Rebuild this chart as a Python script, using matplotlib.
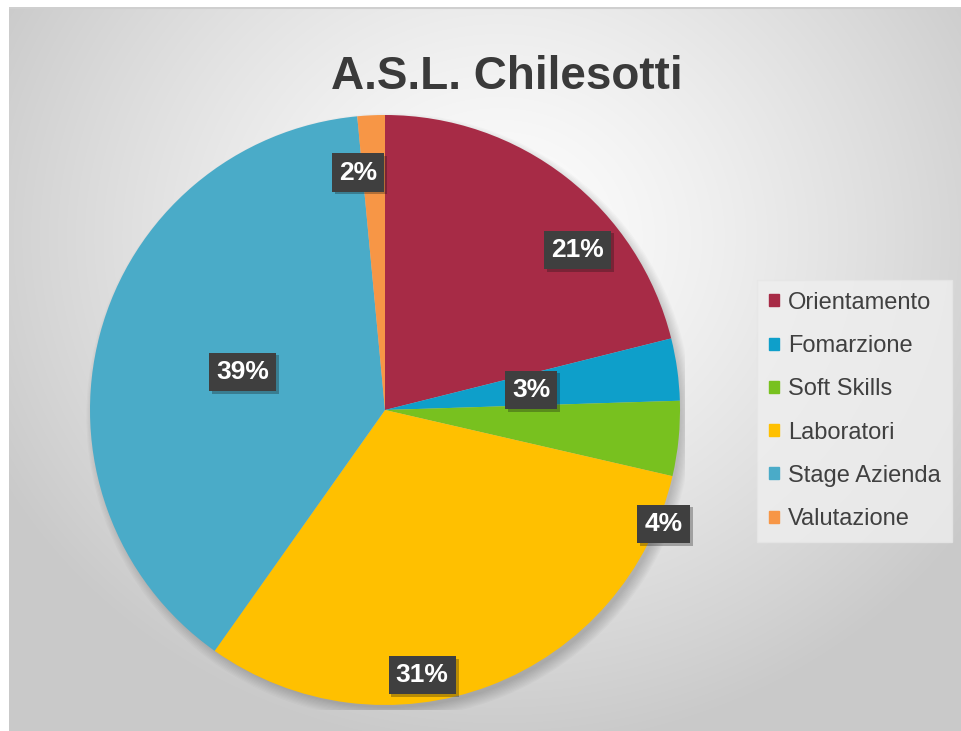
import numpy as np
import matplotlib; matplotlib.use("Agg")
import matplotlib.pyplot as plt
import matplotlib.patches as mpatches
import matplotlib.patheffects as pe

plt.rcParams['font.family'] = ['Liberation Sans', 'DejaVu Sans']

# data (shares in %)
categories = ["Orientamento", "Fomarzione", "Soft Skills", "Laboratori", "Stage Azienda", "Valutazione"]
shares = [21.1, 3.4, 4.1, 31.2, 38.7, 1.5]
colors = ["#A72B46", "#0E9FCA", "#78C11F", "#FFC000", "#4AABC8", "#F79646"]
# where each data label sits (polar, angle in degrees / fraction of radius)
lab_ang = [39.7, 7.9, -22.2, -82.0, 165.0, 96.5]
lab_r = [0.85, 0.50, 1.02, 0.907, 0.50, 0.81]

W, H = 961, 731
fig = plt.figure(figsize=(W/100, H/100), dpi=100)
fig.patch.set_facecolor("white")

# background with radial gradient (chart area starts a few px in from top/left)
bg = fig.add_axes([9/W, 0, 1-9/W, 1-7/H]); bg.set_axis_off()
yy, xx = np.mgrid[0:724, 0:952]
d = np.sqrt(((xx-490)/620.0)**2 + ((yy-230)/560.0)**2)
g = np.clip(0.995 - 0.23*d**1.3, 0.79, 1.0)
bg.imshow(np.dstack([g, g, g]), aspect='auto', extent=(0, 1, 0, 1), origin='upper')
bg.set_xlim(0, 1); bg.set_ylim(0, 1)
bg.plot([0, 1], [0.999, 0.999], color="#cfcfcf", lw=1.5)

# pie axes: 600x600 px square centered on (385, 410)
cx, cy, S = 385, 410, 600
ax = fig.add_axes([(cx-S/2)/W, 1-(cy+S/2)/H, S/W, S/H])
R = 295/300

# soft shadow under the pie, mostly lower right
for k in range(10):
    ax.add_patch(mpatches.Circle((0.014, -0.02), R-0.01+0.004*k, color="black", alpha=0.02, lw=0, zorder=0))

wedges, _ = ax.pie(shares, colors=colors, startangle=90, counterclock=False, radius=R,
                   wedgeprops=dict(lw=0))
for w in wedges: w.set_zorder(2)
ax.set_xlim(-1, 1); ax.set_ylim(-1, 1); ax.set_axis_off()

for s, a, r in zip(shares, lab_ang, lab_r):
    t = ax.text(R*r*np.cos(np.radians(a)), R*r*np.sin(np.radians(a)), f"{s:.0f}%",
                ha='center', va='center', color='white', fontsize=19, fontweight='bold', zorder=5,
                bbox=dict(boxstyle='square,pad=0.27', fc='#3f3f3f', ec='none'))
    t.get_bbox_patch().set_path_effects([pe.SimplePatchShadow(offset=(2, -2), alpha=0.3), pe.Normal()])

fig.text(507/W, 1-77/H, "A.S.L. Chilesotti", ha='center', va='center', fontsize=33,
         fontweight='bold', color='#3a3a3a')

handles = [mpatches.Patch(color=c, label=l) for c, l in zip(colors, categories)]
lg = fig.legend(handles=handles, loc='upper left', bbox_to_anchor=(757/W, 1-280/H),
                fontsize=17, frameon=True, fancybox=False, handlelength=0.42, handleheight=0.42,
                handletextpad=0.38, labelspacing=0.9, borderpad=0.5, borderaxespad=0,
                labelcolor='#404040')
lg.get_frame().set_facecolor('#efefef'); lg.get_frame().set_edgecolor('#e6e6e6'); lg.get_frame().set_alpha(0.8)

plt.savefig("out.png", dpi=100, facecolor='white')
